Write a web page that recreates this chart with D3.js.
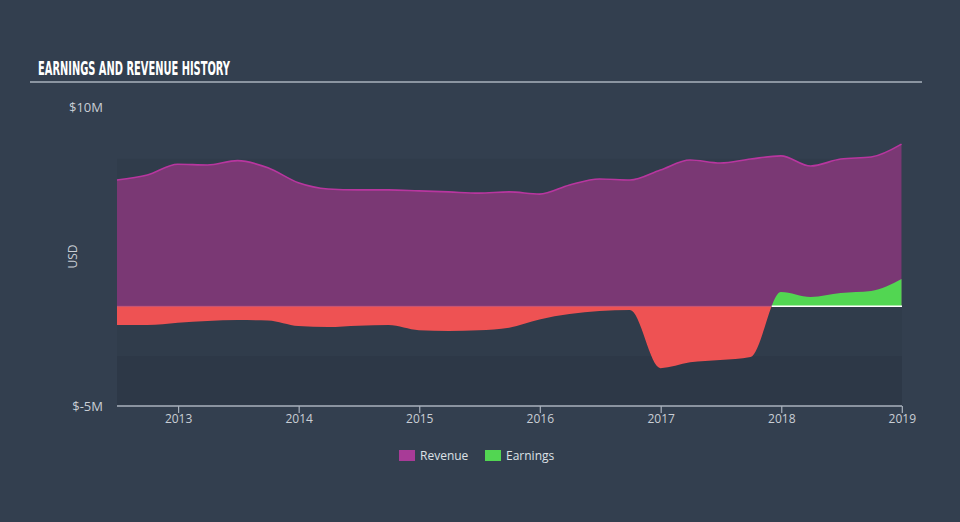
<!DOCTYPE html>
<html>
<head>
<meta charset="utf-8">
<script src="https://cdn.jsdelivr.net/npm/d3@7"></script>
<style>
  html, body { margin: 0; padding: 0; background: #333f4f; }
  svg { display: block; }
</style>
</head>
<body>
<svg id="chart" width="960" height="522"></svg>
<script>
// ---- data ----
const dates = [
  "2012-06-30","2012-09-30","2012-12-31","2013-03-31","2013-06-30","2013-09-30","2013-12-31",
  "2014-03-31","2014-06-30","2014-09-30","2014-12-31","2015-03-31","2015-06-30","2015-09-30",
  "2015-12-31","2016-03-31","2016-06-30","2016-09-30","2016-12-31","2017-03-31","2017-06-30",
  "2017-09-30","2017-12-31","2018-03-31","2018-06-30","2018-09-30","2018-12-31"
];
const revenue = [
  6.34, 6.59, 7.13, 7.09, 7.31, 6.95, 6.20,
  5.89, 5.84, 5.84, 5.79, 5.74, 5.68, 5.74,
  5.63, 6.09, 6.39, 6.34, 6.84, 7.34, 7.19,
  7.39, 7.55, 7.04, 7.39, 7.49, 8.14
];
const earnings = [
  -0.94, -0.94, -0.82, -0.74, -0.69, -0.71, -0.99,
  -1.04, -0.97, -0.94, -1.20, -1.24, -1.20, -1.07,
  -0.66, -0.39, -0.24, -0.19, -3.10, -2.81, -2.69,
  -2.54, 0.72, 0.47, 0.67, 0.77, 1.37
];
const yTickValues = [10, -5];
const xTickYears = [2013, 2014, 2015, 2016, 2017, 2018, 2019];
const bandEdges = [7.4, -2.5, -5];
const legendItems = ["Revenue", "Earnings"];
const titleText = "EARNINGS AND REVENUE HISTORY";

// ---- layout ----
const svg = d3.select("#chart");
const W = 960, H = 522;
const mLeft = 117, mRight = 901.5, mTop = 107, mBottom = 406;
const parse = d3.timeParse("%Y-%m-%d");
const rows = dates.map((d, i) => ({ date: parse(d), rev: revenue[i], earn: earnings[i] }));

const x = d3.scaleTime()
  .domain([parse("2012-06-30"), parse("2018-12-31")])
  .range([mLeft, mRight]);
const y = d3.scaleLinear().domain([-5, 10]).range([mBottom, mTop]);

const colors = {
  bg: "#333f4f",
  band1: "#303c4b",
  band2: "#2d3847",
  revFill: "#7a3874",
  revLine: "#b8369f",
  red: "#ee5253",
  green: "#52d652",
  text: "#c9ced5",
  axis: "#aab2bd"
};

svg.append("rect").attr("width", W).attr("height", H).attr("fill", colors.bg);

// title
svg.append("text")
  .attr("x", 38).attr("y", 75)
  .attr("font-family", "'Liberation Sans Narrow', 'DejaVu Sans Condensed', sans-serif")
  .attr("font-weight", "bold")
  .attr("font-size", 19)
  .attr("fill", "#ffffff")
  .attr("textLength", 192)
  .attr("lengthAdjust", "spacingAndGlyphs")
  .text(titleText);
svg.append("line")
  .attr("x1", 30).attr("x2", 922).attr("y1", 82).attr("y2", 82)
  .attr("stroke", "#aab3bd").attr("stroke-width", 1.5);

// background bands
svg.append("rect")
  .attr("x", mLeft).attr("width", 902 - mLeft)
  .attr("y", y(bandEdges[0])).attr("height", y(bandEdges[1]) - y(bandEdges[0]))
  .attr("fill", colors.band1);
svg.append("rect")
  .attr("x", mLeft).attr("width", 902 - mLeft)
  .attr("y", y(bandEdges[1])).attr("height", y(bandEdges[2]) - y(bandEdges[1]))
  .attr("fill", colors.band2);

const curve = d3.curveMonotoneX;

// revenue area
svg.append("path")
  .datum(rows)
  .attr("fill", colors.revFill)
  .attr("d", d3.area().curve(curve).x(d => x(d.date)).y0(y(0)).y1(d => y(d.rev)));
svg.append("path")
  .datum(rows)
  .attr("fill", "none")
  .attr("stroke", colors.revLine)
  .attr("stroke-width", 1.6)
  .attr("d", d3.line().curve(curve).x(d => x(d.date)).y(d => y(d.rev)));

// clip paths for earnings
const defs = svg.append("defs");
defs.append("clipPath").attr("id", "clipPos")
  .append("rect").attr("x", 0).attr("y", 0).attr("width", W).attr("height", y(0));
defs.append("clipPath").attr("id", "clipNeg")
  .append("rect").attr("x", 0).attr("y", y(0)).attr("width", W).attr("height", H - y(0));

const earnArea = d3.area().curve(curve).x(d => x(d.date)).y0(y(0)).y1(d => y(d.earn));
svg.append("path").datum(rows)
  .attr("fill", colors.green).attr("clip-path", "url(#clipPos)")
  .attr("d", earnArea);
svg.append("path").datum(rows)
  .attr("fill", colors.red).attr("clip-path", "url(#clipNeg)")
  .attr("d", earnArea);

// zero line: faint pink where negative, white where earnings positive
const earnLine = svg.append("path").datum(rows)
  .attr("fill", "none").attr("stroke", "none")
  .attr("d", d3.line().curve(curve).x(d => x(d.date)).y(d => y(d.earn)));
const node = earnLine.node();
const total = node.getTotalLength();
let crossX = null;
let prev = node.getPointAtLength(0);
for (let l = 0.5; l <= total; l += 0.5) {
  const p = node.getPointAtLength(l);
  if (prev.y > y(0) && p.y <= y(0)) crossX = p.x;
  prev = p;
}
svg.append("line")
  .attr("x1", mLeft).attr("x2", crossX || mLeft).attr("y1", y(0)).attr("y2", y(0))
  .attr("stroke", "#e0558a").attr("stroke-width", 1).attr("opacity", 0.7);
if (crossX) {
  svg.append("line")
    .attr("x1", crossX).attr("x2", x(rows[rows.length - 1].date) + 0.5)
    .attr("y1", y(0)).attr("y2", y(0))
    .attr("stroke", "#ffffff").attr("stroke-width", 1.5);
}

// x axis
const xAxis = svg.append("g")
  .attr("transform", `translate(0,${mBottom})`)
  .call(d3.axisBottom(x)
    .tickValues(xTickYears.map(yr => new Date(yr, 0, 1)))
    .tickFormat(d3.timeFormat("%Y"))
    .tickSize(7)
    .tickSizeOuter(0));
xAxis.select(".domain").attr("stroke", colors.axis).attr("stroke-width", 1.5)
  .attr("d", `M${mLeft},0H${902}`);
xAxis.selectAll(".tick line").attr("stroke", colors.axis).attr("stroke-width", 1.2);
xAxis.selectAll(".tick text")
  .attr("fill", colors.text)
  .attr("font-family", "'Open Sans', sans-serif")
  .attr("font-size", 12)
  .attr("dy", "0.95em")
  .attr("y", 6);

// y labels
const yAxis = svg.append("g")
  .attr("transform", `translate(${mLeft},0)`)
  .call(d3.axisLeft(y)
    .tickValues(yTickValues)
    .tickFormat(d => `$${d}M`)
    .tickSize(0)
    .tickPadding(14));
yAxis.select(".domain").remove();
yAxis.selectAll(".tick text")
  .attr("fill", colors.text)
  .attr("font-family", "'Open Sans', sans-serif")
  .attr("font-size", 13);

svg.append("text")
  .attr("transform", `translate(77,${y(2.5)}) rotate(-90)`)
  .attr("text-anchor", "middle")
  .attr("fill", colors.text)
  .attr("font-family", "'Open Sans', sans-serif")
  .attr("font-size", 12)
  .text("USD");

// legend
const legendColors = ["#a83b97", "#52d652"];
const legendX = [399, 485];
const lg = svg.append("g");
legendItems.forEach((name, i) => {
  lg.append("rect")
    .attr("x", legendX[i]).attr("y", 450)
    .attr("width", 16).attr("height", 11)
    .attr("fill", legendColors[i]);
  lg.append("text")
    .attr("x", legendX[i] + 21).attr("y", 460)
    .attr("fill", "#dde1e6")
    .attr("font-family", "'Open Sans', sans-serif")
    .attr("font-size", 12)
    .text(name);
});
</script>
</body>
</html>
